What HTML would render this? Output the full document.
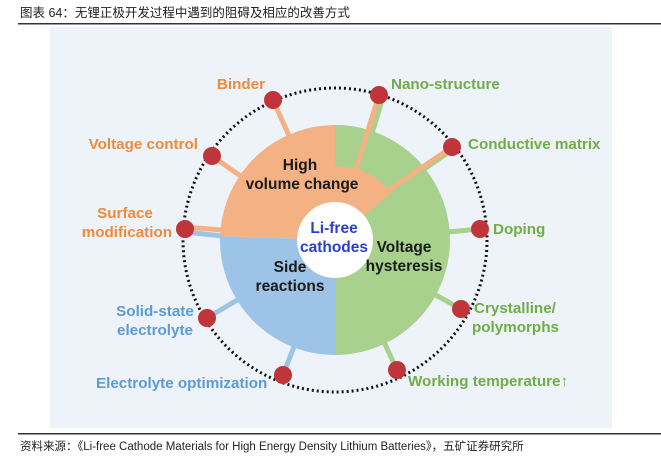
<!DOCTYPE html>
<html><head><meta charset="utf-8"><style>
body{margin:0;background:#fff;}
svg{display:block;font-family:"Liberation Sans","Noto Sans CJK SC",sans-serif;}
</style></head><body>
<svg width="661" height="464" viewBox="0 0 661 464">
<text x="20" y="17" font-size="12.5" fill="#222">图表 64：无锂正极开发过程中遇到的阻碍及相应的改善方式</text>
<rect x="18" y="23" width="643" height="1.5" fill="#333"/>
<rect x="50" y="27" width="562" height="401" fill="#eef3f9"/>
<rect x="18" y="433" width="643" height="1.5" fill="#333"/>
<text x="20" y="450" font-size="11.5" fill="#222">资料来源：《Li-free Cathode Materials for High Energy Density Lithium Batteries》，五矿证券研究所</text>

<g stroke-width="5" stroke-linecap="butt">
<line x1="273" y1="100" x2="290" y2="138" stroke="#f4b183"/>
<line x1="212" y1="156" x2="242" y2="177" stroke="#f4b183"/>
<line x1="185" y1="227" x2="222" y2="230" stroke="#f4b183"/>
<line x1="185" y1="232" x2="222" y2="236" stroke="#9dc3e6"/>
<line x1="207" y1="318" x2="239" y2="299" stroke="#9dc3e6"/>
<line x1="283" y1="375" x2="295" y2="344" stroke="#9dc3e6"/>
<line x1="397" y1="370" x2="384" y2="342" stroke="#a9d18e"/>
<line x1="461" y1="309" x2="432" y2="293" stroke="#a9d18e"/>
<line x1="480" y1="229" x2="448" y2="232" stroke="#a9d18e"/>
<line x1="452" y1="150" x2="423" y2="170" stroke="#a9d18e"/>
<line x1="383" y1="97" x2="364" y2="160" stroke="#a9d18e"/>
</g>

<path d="M335,240 L335,125 A115,115 0 0 1 335,355 Z" fill="#a9d18e"/>
<path d="M335,240 L335,355 A115,115 0 0 1 220.1,236 Z" fill="#9dc3e6"/>
<path d="M335,240 L220.1,236 A115,115 0 0 1 423.1,166.1 Z" fill="#f4b183"/>
<path d="M335,125 A115,115 0 0 1 423.1,166.1 L391.7,192.4 A74,74 0 0 0 335,166 Z" fill="#a9d18e"/>
<g stroke="#f4b183" stroke-width="5">
<line x1="355" y1="172" x2="379" y2="95"/>
<line x1="386" y1="192" x2="452" y2="147"/>
</g>
<circle cx="335" cy="240" r="38" fill="#fff"/>

<circle cx="335" cy="240" r="152" fill="none" stroke="#111" stroke-width="3" stroke-dasharray="2 3"/>

<g fill="#c0353a">
<circle cx="273" cy="100" r="9"/><circle cx="379" cy="95" r="9"/>
<circle cx="452" cy="147" r="9"/><circle cx="480" cy="229" r="9"/>
<circle cx="461" cy="309" r="9"/><circle cx="397" cy="370" r="9"/>
<circle cx="283" cy="375" r="9"/><circle cx="207" cy="318" r="9"/>
<circle cx="185" cy="229" r="9"/><circle cx="212" cy="156" r="9"/>
</g>

<g font-size="15.5" font-weight="bold" fill="#1a1a1a" text-anchor="middle">
<text x="300" y="170">High</text><text x="302" y="189">volume change</text>
<text x="290" y="272">Side</text><text x="290" y="291">reactions</text>
<text x="404" y="252">Voltage</text><text x="404" y="271">hysteresis</text>
</g>
<g font-size="15.5" font-weight="bold" fill="#2b3fc8" text-anchor="middle">
<text x="334" y="233">Li-free</text><text x="334" y="252">cathodes</text>
</g>

<g font-size="15.2" font-weight="bold">
<g fill="#ee8a3c">
<text x="265" y="89" text-anchor="end">Binder</text>
<text x="198" y="149" text-anchor="end">Voltage control</text>
<text x="125" y="218" text-anchor="middle">Surface</text>
<text x="172" y="237" text-anchor="end">modification</text>
</g>
<g fill="#5b9bd5">
<text x="155" y="316" text-anchor="middle">Solid-state</text>
<text x="155" y="335" text-anchor="middle">electrolyte</text>
<text x="96" y="388">Electrolyte optimization</text>
</g>
<g fill="#70ad47">
<text x="391" y="89">Nano-structure</text>
<text x="468" y="149">Conductive matrix</text>
<text x="493" y="234">Doping</text>
<text x="474" y="313">Crystalline/</text>
<text x="472" y="332">polymorphs</text>
<text x="408" y="386">Working temperature↑</text>
</g>
</g>
</svg>
</body></html>
